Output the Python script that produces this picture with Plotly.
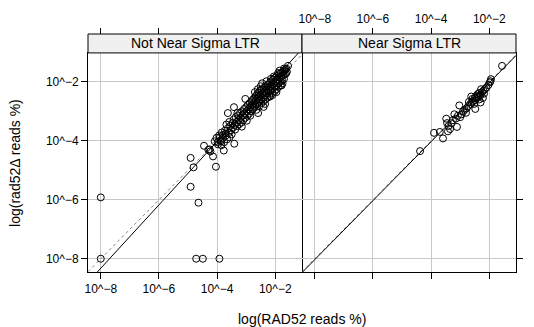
import plotly.graph_objects as go

# ---------------- data (log10 of read %) ----------------
panels = ["Not Near Sigma LTR", "Near Sigma LTR"]

not_near_x = [
    -8.00, -8.00, -4.72, -4.49, -3.92, -4.91, -4.81, -4.91, -4.64, -4.45, -4.30, -4.23, -4.14, -4.04,
    -3.77, -3.41, -3.63, -3.42, -2.59, -2.18, -3.03, -3.91, -3.80, -3.86, -3.70, -3.98, -4.26,
    -4.08, -4.02, -3.97, -3.93, -3.88, -3.84, -3.80, -3.76, -3.73, -3.70, -3.66, -3.63, -3.60, -3.57,
    -3.55, -3.52, -3.50, -3.68, -3.85, -3.58,
    -3.47, -3.45, -3.43, -3.40, -3.38, -3.36, -3.33, -3.31, -3.28, -3.26, -3.24, -3.21, -3.19, -3.17,
    -3.14, -3.12, -3.10, -3.07, -3.05, -3.03, -3.00, -2.98, -2.96, -2.94, -2.92, -2.90, -2.88, -2.86,
    -2.84, -2.82, -2.80, -3.15, -2.98, -3.30, -2.86,
    -2.79, -2.77, -2.76, -2.74, -2.72, -2.71, -2.69, -2.67, -2.66, -2.64, -2.62, -2.61, -2.59, -2.57,
    -2.56, -2.54, -2.52, -2.51, -2.49, -2.47, -2.46, -2.44, -2.42, -2.41, -2.39, -2.37, -2.36, -2.34,
    -2.32, -2.31, -2.29, -2.27, -2.26, -2.24, -2.23, -2.21, -2.65, -2.55, -2.45, -2.35, -2.70, -2.50,
    -2.40, -2.60, -2.30,
    -2.19, -2.17, -2.16, -2.14, -2.12, -2.11, -2.09, -2.07, -2.06, -2.04, -2.02, -2.00, -1.99, -1.97,
    -1.95, -1.94, -1.92, -1.90, -1.89, -1.87, -1.85, -1.84, -1.82, -1.80, -1.79, -1.77, -1.75, -1.74,
    -1.72, -1.70, -1.68, -1.67, -1.65, -1.62, -1.60, -1.56, -1.70, -1.78, -1.90, -2.05, -2.10, -1.96,
    -1.85, -2.15, -1.63,
]
not_near_y = [
    -8.00, -5.92, -8.00, -8.00, -8.00, -4.58, -4.90, -5.56, -6.10, -4.17, -4.31, -4.36, -4.53, -4.88,
    -4.33, -4.10, -3.06, -2.86, -3.06, -2.50, -2.58, -3.88, -3.80, -4.02, -3.75, -4.05, -4.29,
    -4.02, -3.90, -4.12, -3.82, -3.98, -3.72, -3.90, -4.05, -3.66, -3.82, -3.95, -3.58, -3.74, -3.88,
    -3.50, -3.64, -3.78, -3.45, -4.15, -3.36,
    -3.40, -3.55, -3.28, -3.46, -3.62, -3.20, -3.36, -3.50, -3.14, -3.30, -3.44, -3.05, -3.22, -3.38,
    -3.00, -3.14, -3.30, -2.92, -3.08, -3.22, -2.86, -3.00, -3.15, -2.78, -2.93, -3.08, -2.72, -2.86,
    -3.00, -2.66, -2.80, -3.52, -3.32, -3.05, -3.15,
    -2.94, -2.60, -2.74, -2.88, -2.55, -2.68, -2.82, -2.48, -2.62, -2.76, -2.42, -2.56, -2.70, -2.36,
    -2.50, -2.64, -2.30, -2.44, -2.58, -2.72, -2.25, -2.38, -2.52, -2.66, -2.20, -2.33, -2.46, -2.60,
    -2.15, -2.28, -2.40, -2.54, -2.10, -2.22, -2.35, -2.48, -2.95, -2.82, -2.05, -2.75, -2.35, -2.15,
    -2.85, -2.25, -1.98,
    -2.04, -2.16, -2.30, -1.98, -2.10, -2.24, -2.38, -1.92, -2.04, -2.18, -2.32, -1.86, -1.98, -2.12,
    -2.25, -1.80, -1.92, -2.06, -2.18, -1.74, -1.86, -2.00, -2.12, -1.70, -1.82, -1.95, -2.05, -1.66,
    -1.78, -1.90, -1.62, -1.74, -1.58, -1.55, -1.66, -1.46, -1.55, -2.12, -1.70, -1.82, -2.45, -2.35,
    -1.62, -1.90, -1.72,
]

near_x = [
    -1.56, -1.94, -1.98, -1.96, -2.03, -2.10, -2.15, -2.20, -2.18, -2.25, -2.28, -2.30, -2.35, -2.38,
    -2.40, -2.42, -2.45, -2.50, -2.48, -2.55, -2.60, -2.58, -2.65, -2.70, -2.72, -2.48, -2.30, -2.22,
    -2.78, -2.85, -2.90, -3.03, -2.95, -3.00, -3.08, -3.15, -3.20, -3.25, -3.30, -3.48, -3.45, -3.40,
    -3.11, -3.42, -3.59, -3.70, -3.90, -4.38, -2.62, -2.52, -2.35, -2.80, -3.35,
]
near_y = [
    -1.46, -1.91, -2.02, -1.98, -2.11, -2.20, -2.25, -2.30, -2.40, -2.35, -2.25, -2.45, -2.38, -2.50,
    -2.42, -2.55, -2.48, -2.55, -2.62, -2.65, -2.70, -2.58, -2.75, -2.68, -2.82, -2.92, -2.70, -2.55,
    -2.90, -2.95, -3.00, -2.80, -3.10, -3.20, -3.15, -3.25, -3.10, -3.30, -3.40, -3.25, -3.40, -3.50,
    -3.53, -3.68, -3.92, -3.70, -3.73, -4.35, -2.50, -2.75, -2.60, -3.05, -3.60,
]

# fitted line per panel (slope, intercept)
fit_slope = [1.074, 1.0]
fit_intercept = [0.27, -0.03]

tick_vals = [-8, -6, -4, -2]
tick_text = ["10^\u22128", "10^\u22126", "10^\u22124", "10^\u22122"]

x_range = [-8.44, -1.08]
y_range = [-8.45, -1.02]

# ---------------- figure ----------------
FONT = "Liberation Sans, Arial, sans-serif"
GRID = "#c8c8c8"
fig = go.Figure()

series = [(not_near_x, not_near_y), (near_x, near_y)]
for i, (xs, ys) in enumerate(series):
    xa = "x" if i == 0 else "x2"
    ya = "y" if i == 0 else "y2"
    # y = x reference (dotted)
    fig.add_trace(go.Scatter(x=x_range, y=x_range, mode="lines", xaxis=xa, yaxis=ya,
                             line=dict(color="#888888", width=1, dash="dot"),
                             showlegend=False, hoverinfo="skip"))
    # fitted line (solid)
    fx = [x_range[0] - 1, x_range[1] + 1]
    fy = [fit_slope[i] * v + fit_intercept[i] for v in fx]
    fig.add_trace(go.Scatter(x=fx, y=fy, mode="lines", xaxis=xa, yaxis=ya,
                             line=dict(color="black", width=1),
                             showlegend=False, hoverinfo="skip"))
    fig.add_trace(go.Scatter(x=xs, y=ys, mode="markers", xaxis=xa, yaxis=ya,
                             marker=dict(symbol="circle-open", size=7, color="black",
                                         line=dict(width=1, color="black")),
                             showlegend=False, cliponaxis=False))

# dummy traces for top axes
fig.add_trace(go.Scatter(x=[], y=[], xaxis="x3", yaxis="y", showlegend=False))
fig.add_trace(go.Scatter(x=[], y=[], xaxis="x4", yaxis="y2", showlegend=False))

PANEL_TOP = 0.9205
tickfont = dict(family=FONT, size=12, color="black")
common_x = dict(range=x_range, tickvals=tick_vals, ticktext=tick_text, ticks="outside",
                ticklen=6, tickcolor="black", tickwidth=1, zeroline=False,
                tickfont=tickfont)

fig.update_layout(
    width=534, height=327,
    margin=dict(l=88, r=16, t=33, b=55),
    plot_bgcolor="white", paper_bgcolor="white",
    font=dict(family=FONT, size=12, color="black"),
    xaxis=dict(domain=[0, 0.5], anchor="y", showgrid=True, gridcolor=GRID, gridwidth=1,
               showline=True, linecolor="black", linewidth=1, mirror=True,
               showticklabels=True, **common_x),
    xaxis2=dict(domain=[0.5, 1], anchor="y2", showgrid=True, gridcolor=GRID, gridwidth=1,
                showline=True, linecolor="black", linewidth=1, mirror=True,
                showticklabels=False, **common_x),
    xaxis3=dict(overlaying="x", anchor="free", position=1, side="top", showgrid=False,
                showline=False, showticklabels=False, **common_x),
    xaxis4=dict(overlaying="x2", anchor="free", position=1, side="top", showgrid=False,
                showline=False, showticklabels=True, **common_x),
    yaxis=dict(domain=[0, PANEL_TOP], anchor="x", range=y_range, tickvals=tick_vals,
               ticktext=tick_text, ticks="outside", ticklen=6, tickcolor="black",
               showgrid=True, gridcolor=GRID, zeroline=False, showline=True,
               linecolor="black", linewidth=1, mirror=True, tickfont=tickfont),
    yaxis2=dict(domain=[0, PANEL_TOP], anchor="x2", side="right", range=y_range,
                tickvals=tick_vals, ticktext=tick_text, ticks="outside", ticklen=6,
                tickcolor="black", showticklabels=False, showgrid=True, gridcolor=GRID,
                zeroline=False, showline=True, linecolor="black", linewidth=1, mirror=False),
)

# strips
for i, name in enumerate(panels):
    x0, x1 = (0, 0.5) if i == 0 else (0.5, 1)
    fig.add_shape(type="rect", xref="paper", yref="paper", x0=x0, x1=x1, y0=PANEL_TOP, y1=1,
                  fillcolor="#f0f0f0", line=dict(color="black", width=1), layer="above")
    fig.add_annotation(x=(x0 + x1) / 2, y=(PANEL_TOP + 1) / 2, xref="paper", yref="paper",
                       text=name, showarrow=False, font=dict(family=FONT, size=14, color="black"),
                       xanchor="center", yanchor="middle")

# axis titles
fig.add_annotation(x=0.5, y=-0.197, xref="paper", yref="paper", text="log(RAD52 reads %)",
                   showarrow=False, font=dict(family=FONT, size=14, color="black"),
                   xanchor="center", yanchor="middle")
fig.add_annotation(x=-0.172, y=0.46, xref="paper", yref="paper", text="log(rad52\u0394 reads %)",
                   showarrow=False, textangle=-90, font=dict(family=FONT, size=14, color="black"),
                   xanchor="center", yanchor="middle")

fig.write_html("out.html")
